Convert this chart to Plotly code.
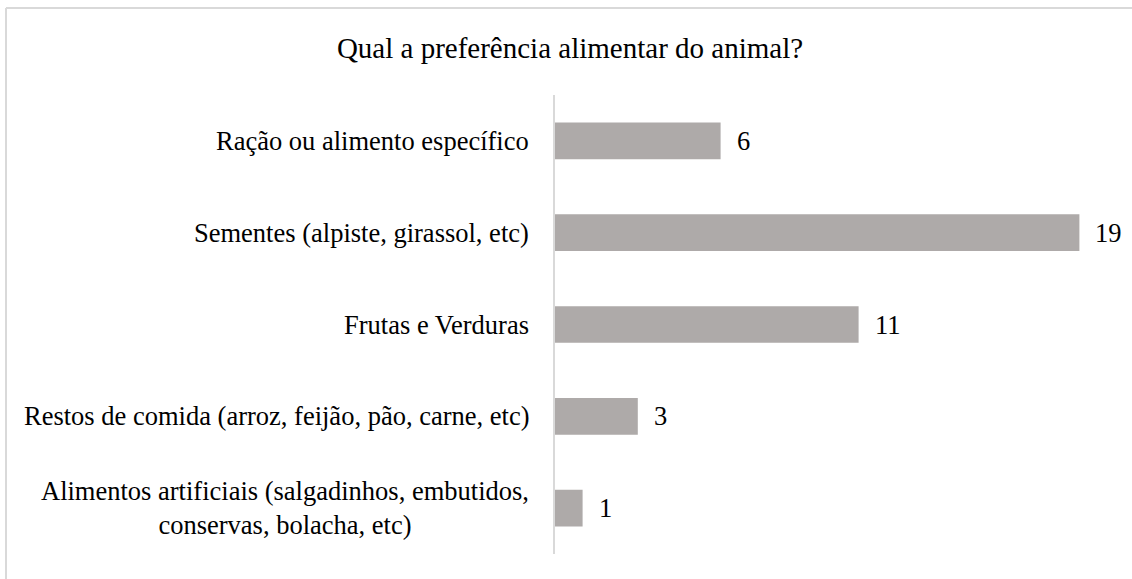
import plotly.graph_objects as go

categories = [
    "Ração ou alimento específico",
    "Sementes (alpiste, girassol, etc)",
    "Frutas e Verduras",
    "Restos de comida (arroz, feijão, pão, carne, etc)",
    "Alimentos artificiais (salgadinhos, embutidos,<br>conservas, bolacha, etc)",
]
values = [6, 19, 11, 3, 1]
title_text = "Qual a preferência alimentar do animal?"

W, H = 1132, 579
ML, MR, MT, MB = 555, 25, 95, 25
FONT = "'Liberation Serif', 'Times New Roman', 'DejaVu Serif', serif"
LABEL_SIZE = 26.5
TITLE_SIZE = 29
BAR_COLOR = "#AEAAA9"
GRID = "#D9D9D9"

pw = W - ML - MR
ph = H - MT - MB


def px_x(x):
    return (x - ML) / pw


def px_y(y):
    return 1 - (y - MT) / ph


fig = go.Figure(
    go.Bar(
        x=values,
        y=categories,
        orientation="h",
        width=0.4,
        marker=dict(color=BAR_COLOR, line=dict(width=0)),
        hoverinfo="skip",
    )
)

annotations = []
for c, v in zip(categories, values):
    annotations.append(dict(
        x=0, y=c, xref="x", yref="y", text=c, showarrow=False,
        xanchor="right", yanchor="middle", align="center", xshift=-24,
        font=dict(family=FONT, size=LABEL_SIZE, color="#000000"),
    ))
    annotations.append(dict(
        x=v, y=c, xref="x", yref="y", text=str(v), showarrow=False,
        xanchor="left", yanchor="middle", xshift=14,
        font=dict(family=FONT, size=LABEL_SIZE, color="#000000"),
    ))

shapes = [
    dict(type="line", xref="paper", yref="paper",
         x0=px_x(6), x1=px_x(W + 20), y0=px_y(8), y1=px_y(8),
         line=dict(color=GRID, width=2)),
    dict(type="line", xref="paper", yref="paper",
         x0=px_x(6), x1=px_x(6), y0=px_y(8), y1=px_y(H + 20),
         line=dict(color=GRID, width=2)),
]

fig.update_layout(
    width=W, height=H,
    margin=dict(l=ML, r=MR, t=MT, b=MB),
    paper_bgcolor="white", plot_bgcolor="white",
    showlegend=False,
    font=dict(family=FONT),
    title=dict(text=title_text, x=570 / W, xanchor="center", xref="container",
               y=1 - 48 / H, yanchor="middle", yref="container",
               font=dict(family=FONT, size=TITLE_SIZE, color="#000000")),
    xaxis=dict(range=[0, 20], visible=False, fixedrange=True),
    yaxis=dict(autorange="reversed", showticklabels=False, showgrid=False,
               showline=True, linecolor=GRID, linewidth=2, ticks="",
               zeroline=False, fixedrange=True),
    annotations=annotations,
    shapes=shapes,
)

fig.write_html(
    "out.html",
    config={"displayModeBar": False},
    post_script="document.body.style.margin='0';document.body.style.overflow='hidden';",
)
